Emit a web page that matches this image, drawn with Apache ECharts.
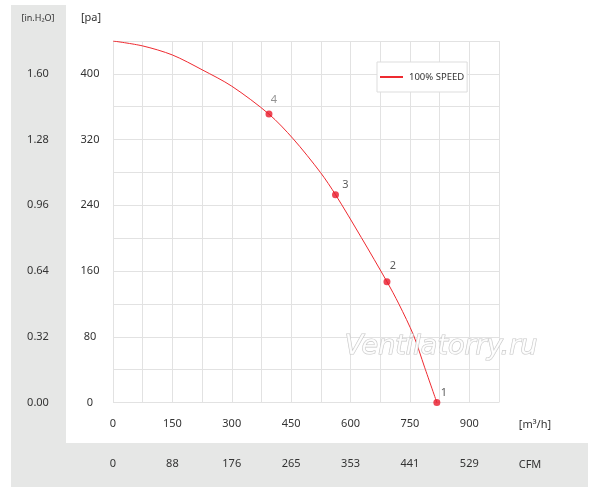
<!DOCTYPE html>
<html>
<head>
<meta charset="utf-8">
<script src="https://cdn.jsdelivr.net/npm/echarts@6/dist/echarts.min.js"></script>
<style>
html,body{margin:0;padding:0;background:#fff;}
#chart{width:600px;height:496px;}
</style>
</head>
<body>
<div id="chart"></div>
<script>
// ---- data ----
var seriesName = '100% SPEED';
// fan curve (flow m3/h, pressure pa)
var curveFlow     = [0, 75, 150, 225, 300, 394, 455, 524, 562, 627, 692, 722, 759, 787, 818];
var curvePressure = [440, 434, 423, 405, 385, 351, 321, 280, 253, 201, 147, 120, 82, 43, 0];
// numbered operating points
var pointNames    = ['1', '2', '3', '4'];
var pointFlow     = [818, 692, 562, 394];
var pointPressure = [0, 147, 253, 351];
// tick labels
var flowLabels  = ['0', '150', '300', '450', '600', '750', '900'];
var cfmLabels   = ['0', '88', '176', '265', '353', '441', '529'];
var paLabels    = ['0', '80', '160', '240', '320', '400'];
var inh2oLabels = ['0.00', '0.32', '0.64', '0.96', '1.28', '1.60'];

// ---- styling ----
var FONT = '"Noto Sans", "Open Sans", sans-serif';
var TXT = '#333';
var GREY = '#e6e7e6';
var GRID = '#e2e2e2';
var RED = '#ee2a30';
var labelOffsets = [[7, 4], [6, -2], [10, 4], [5, 0]];
var labelColors = ['#333', '#333', '#333', '#777'];

function tickLabel(arr, step) {
  return function (v) {
    var i = Math.round(v / step);
    if (Math.abs(v - i * step) < 1e-6 && i < arr.length) return arr[i];
    return '';
  };
}

var curveData = curveFlow.map(function (x, i) { return [x, curvePressure[i]]; });
var pointData = pointFlow.map(function (x, i) {
  return {
    value: [x, pointPressure[i]],
    name: pointNames[i],
    label: { offset: labelOffsets[i], color: labelColors[i] }
  };
});

var chart = echarts.init(document.getElementById('chart'), null, { renderer: 'canvas' });
var option = {
  animation: false,
  backgroundColor: '#fff',
  textStyle: { fontFamily: FONT },
  grid: { left: 113, top: 41, width: 386, height: 361.5, containLabel: false },
  legend: {
    data: [{ name: seriesName, icon: 'rect' }],
    left: 377, top: 62,
    padding: [10, 3, 10, 3],
    borderColor: '#dddddd', borderWidth: 1,
    backgroundColor: '#fff',
    itemWidth: 23, itemHeight: 2, itemGap: 4,
    textStyle: { fontSize: 9.5, color: TXT, fontFamily: FONT, padding: [0, 0, 0, 1] }
  },
  xAxis: [{
    type: 'value', min: 0, max: 975, interval: 75,
    axisLine: { show: false }, axisTick: { show: false },
    splitLine: { show: true, lineStyle: { color: GRID, width: 1 } },
    axisLabel: { formatter: tickLabel(flowLabels, 150), color: TXT, fontSize: 11, margin: 16, fontFamily: FONT }
  }, {
    type: 'value', min: 0, max: 975, interval: 75, position: 'bottom', offset: 40,
    axisLine: { show: false }, axisTick: { show: false }, splitLine: { show: false },
    axisLabel: { formatter: tickLabel(cfmLabels, 150), color: TXT, fontSize: 11, margin: 16, fontFamily: FONT }
  }],
  yAxis: [{
    type: 'value', min: 0, max: 440, interval: 40,
    axisLine: { show: false }, axisTick: { show: false },
    splitLine: { show: true, lineStyle: { color: GRID, width: 1 } },
    axisLabel: { formatter: tickLabel(paLabels, 80), color: TXT, fontSize: 11, margin: 23, align: 'center', fontFamily: FONT }
  }, {
    type: 'value', min: 0, max: 440, interval: 40, position: 'left', offset: 0,
    axisLine: { show: false }, axisTick: { show: false }, splitLine: { show: false },
    axisLabel: { formatter: tickLabel(inh2oLabels, 80), color: TXT, fontSize: 11, margin: 75, align: 'center', fontFamily: FONT }
  }],
  series: [{
    name: seriesName, type: 'line', smooth: 0.3, symbol: 'none',
    xAxisIndex: 0, yAxisIndex: 0,
    data: curveData,
    lineStyle: { color: RED, width: 1 },
    itemStyle: { color: RED },
    z: 2
  }, {
    name: 'points', type: 'scatter', symbol: 'circle', symbolSize: 7,
    xAxisIndex: 0, yAxisIndex: 0,
    data: pointData,
    itemStyle: { color: '#e8192b' },
    label: { show: true, position: 'top', formatter: '{b}', fontSize: 11, color: TXT, fontFamily: FONT },
    z: 3
  }],
  graphic: [
    { type: 'rect', z: -10, silent: true, shape: { x: 11, y: 5, width: 55, height: 482 }, style: { fill: GREY } },
    { type: 'rect', z: -10, silent: true, shape: { x: 66, y: 443, width: 522, height: 44 }, style: { fill: GREY } },
    { type: 'text', z: 10, silent: true, x: 38, y: 18, style: { text: '[in.H\u2082O]', font: '9px ' + FONT, fill: TXT, textAlign: 'center', textVerticalAlign: 'middle' } },
    { type: 'text', z: 10, silent: true, x: 91, y: 18, style: { text: '[pa]', font: '11px ' + FONT, fill: TXT, textAlign: 'center', textVerticalAlign: 'middle' } },
    { type: 'text', z: 10, silent: true, x: 535, y: 425, style: { text: '[m\u00B3/h]', font: '11px ' + FONT, fill: TXT, textAlign: 'center', textVerticalAlign: 'middle' } },
    { type: 'text', z: 10, silent: true, x: 530, y: 465, style: { text: 'CFM', font: '11px ' + FONT, fill: TXT, textAlign: 'center', textVerticalAlign: 'middle' } },
    { type: 'text', z: 100, silent: true, x: 441, y: 347, style: { text: 'Ventilatorry.ru', font: 'italic 27px "DejaVu Sans", sans-serif', fill: 'rgba(255,255,255,0.85)', stroke: '#c8c8c8', lineWidth: 1.2, textAlign: 'center', textVerticalAlign: 'middle' } }
  ]
};
chart.setOption(option);
</script>
</body>
</html>
